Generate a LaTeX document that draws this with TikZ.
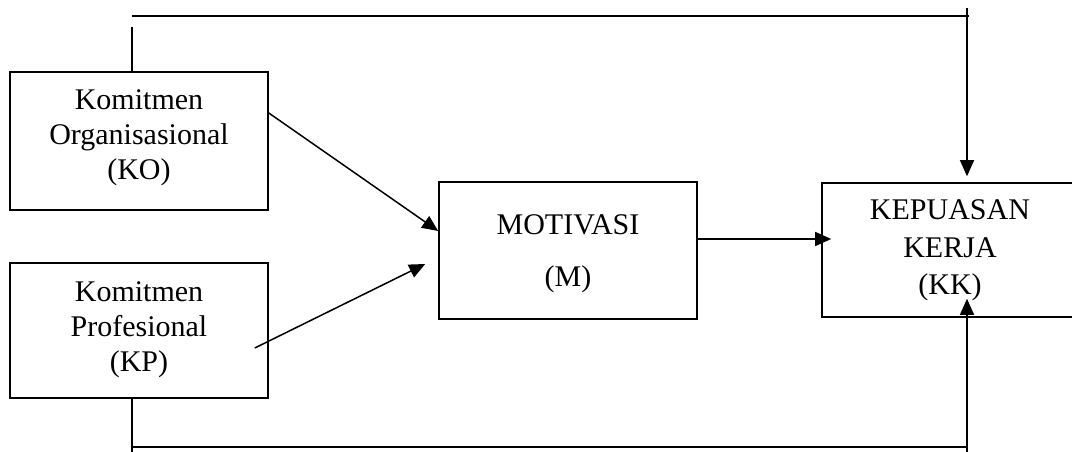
\documentclass[tikz,border=0pt]{standalone}
\usepackage{fontspec}
\setmainfont{Liberation Serif}
\usetikzlibrary{arrows.meta}
\begin{document}
\begin{tikzpicture}[x=1pt,y=-1pt,
  box/.style={draw,line width=1.6pt,minimum width=258pt,inner sep=0pt},
  lbl/.style={align=center,font=\fontsize{30}{35}\selectfont,inner sep=0pt},
  conn/.style={line width=1.5pt},
  arr/.style={conn,-{Triangle[length=16pt,width=14pt]}}]
\useasboundingbox (0,0) rectangle (1072,452);
\clip (0,0) rectangle (1072,452);
% boxes
\node[box,minimum height=138pt] (ko) at (139,141) {};
\node[box,minimum height=135pt] (kp) at (139,330.5) {};
\node[box,minimum height=137pt] (m) at (568,250.5) {};
\node[box,minimum height=134pt] (kk) at (951,250) {};
% texts
\node[lbl] (kot) at (139,137.4) {Komitmen\\Organisasional\\(KO)};
\node[lbl] (kpt) at (139,329.5) {Komitmen\\Profesional\\(KP)};
\node[lbl] (mt) at (568,253.7) {MOTIVASI\\[17pt](M)};
\node[lbl] (kkt) at (950,250.5) {KEPUASAN\\[2.5pt]KERJA\\[2.5pt](KK)};
% helper coordinates
\coordinate (t1) at (132,27);
\coordinate (t2) at (132,16);
\coordinate (t3) at (969,16);
\coordinate (t4) at (967,8);
\coordinate (b1) at (132,452);
\coordinate (b2) at (132,447);
\coordinate (b3) at (967,447);
\coordinate (b4) at (967,452);
% connectors
\draw[arr] ([yshift=28pt]ko.east) -- ([yshift=19.5pt]m.west);
\draw[arr] ([xshift=-14pt,yshift=-17.5pt]kp.east) -- ([xshift=-13pt,yshift=-13.5pt]m.west);
\draw[arr] ([yshift=11.5pt]m.east) -- ([xshift=10pt,yshift=11pt]kk.west);
% top feedback
\draw[conn] ([xshift=-7pt]ko.north) -- (t1);
\draw[conn] (t2) -- (t3);
\draw[arr] (t4) -- ([xshift=16pt,yshift=6pt]kk.north);
% bottom feedback
\draw[conn] ([xshift=-7pt]kp.south) -- (b1);
\draw[conn] (b2) -- (b3);
\draw[arr] (b4) -- ([xshift=16pt,yshift=19pt]kk.south);
\end{tikzpicture}
\end{document}
